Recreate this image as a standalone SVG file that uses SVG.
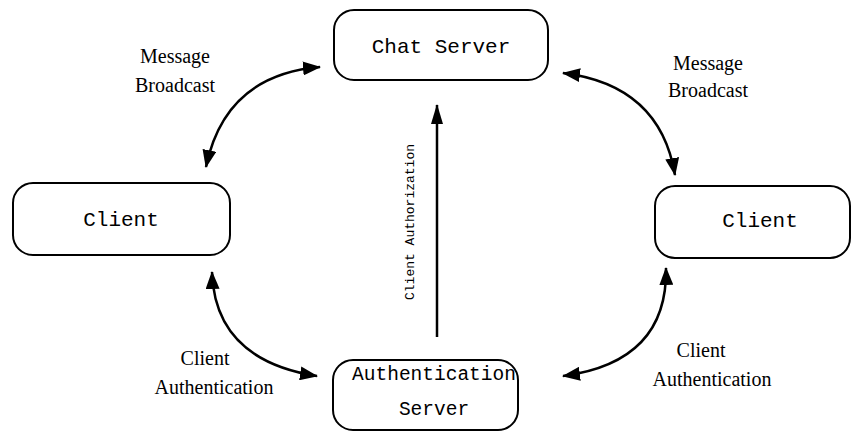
<svg xmlns="http://www.w3.org/2000/svg" width="862" height="432" viewBox="0 0 862 432">
<style>
.box{fill:#fff;stroke:#000;stroke-width:2}
.mono{font-family:"Liberation Mono","Courier New",monospace;fill:#000;text-anchor:middle}
.serif{font-family:"Liberation Serif","Times New Roman",serif;font-size:20px;fill:#000;text-anchor:middle}
.conn{fill:none;stroke:#000;stroke-width:2.5}
</style>
<defs>
<marker id="ah" markerUnits="userSpaceOnUse" viewBox="0 0 18 14" refX="17" refY="7" markerWidth="18" markerHeight="14" orient="auto-start-reverse">
<path d="M0,0 L18,7 L0,14 z" fill="#000"/>
</marker>
<marker id="ah2" markerUnits="userSpaceOnUse" viewBox="0 0 20 12" refX="19" refY="6" markerWidth="20" markerHeight="12" orient="auto">
<path d="M0,0 L20,6 L0,12 z" fill="#000"/>
</marker>
</defs>
<rect width="862" height="432" fill="#fff"/>
<g id="connectors">
<path class="conn" d="M206,167 Q225,75 320,67" marker-start="url(#ah)" marker-end="url(#ah)"/>
<path class="conn" d="M563,73 Q660,85 675,175" marker-start="url(#ah)" marker-end="url(#ah)"/>
<path class="conn" d="M212,272 Q215,360 317,376" marker-start="url(#ah)" marker-end="url(#ah)"/>
<path class="conn" d="M666,268 Q668,362 563,376" marker-start="url(#ah)" marker-end="url(#ah)"/>
<path class="conn" d="M437,337 L437,105" stroke-width="2" marker-end="url(#ah2)"/>
<text class="mono" font-size="13" transform="translate(414,222) rotate(-90)">Client Authorization</text>
<text class="serif" x="175" y="63">Message</text>
<text class="serif" x="175" y="92">Broadcast</text>
<text class="serif" x="708" y="70">Message</text>
<text class="serif" x="708" y="97">Broadcast</text>
<text class="serif" x="205" y="365">Client</text>
<text class="serif" x="214" y="394">Authentication</text>
<text class="serif" x="701" y="357">Client</text>
<text class="serif" x="712" y="386">Authentication</text>
</g>
<g id="chat-server">
<rect class="box" x="334" y="10" width="214" height="70" rx="20"/>
<text class="mono" font-size="21" x="441" y="53">Chat Server</text>
</g>
<g id="client-left">
<rect class="box" x="13" y="183" width="217" height="72" rx="20"/>
<text class="mono" font-size="21" x="121" y="226">Client</text>
</g>
<g id="client-right">
<rect class="box" x="655" y="186" width="195" height="72" rx="20"/>
<text class="mono" font-size="21" x="760" y="227">Client</text>
</g>
<g id="auth-server">
<rect class="box" x="333" y="360" width="185" height="70" rx="20"/>
<text class="mono" font-size="19.5" x="434" y="380">Authentication</text>
<text class="mono" font-size="19.5" x="434" y="415">Server</text>
</g>
</svg>
